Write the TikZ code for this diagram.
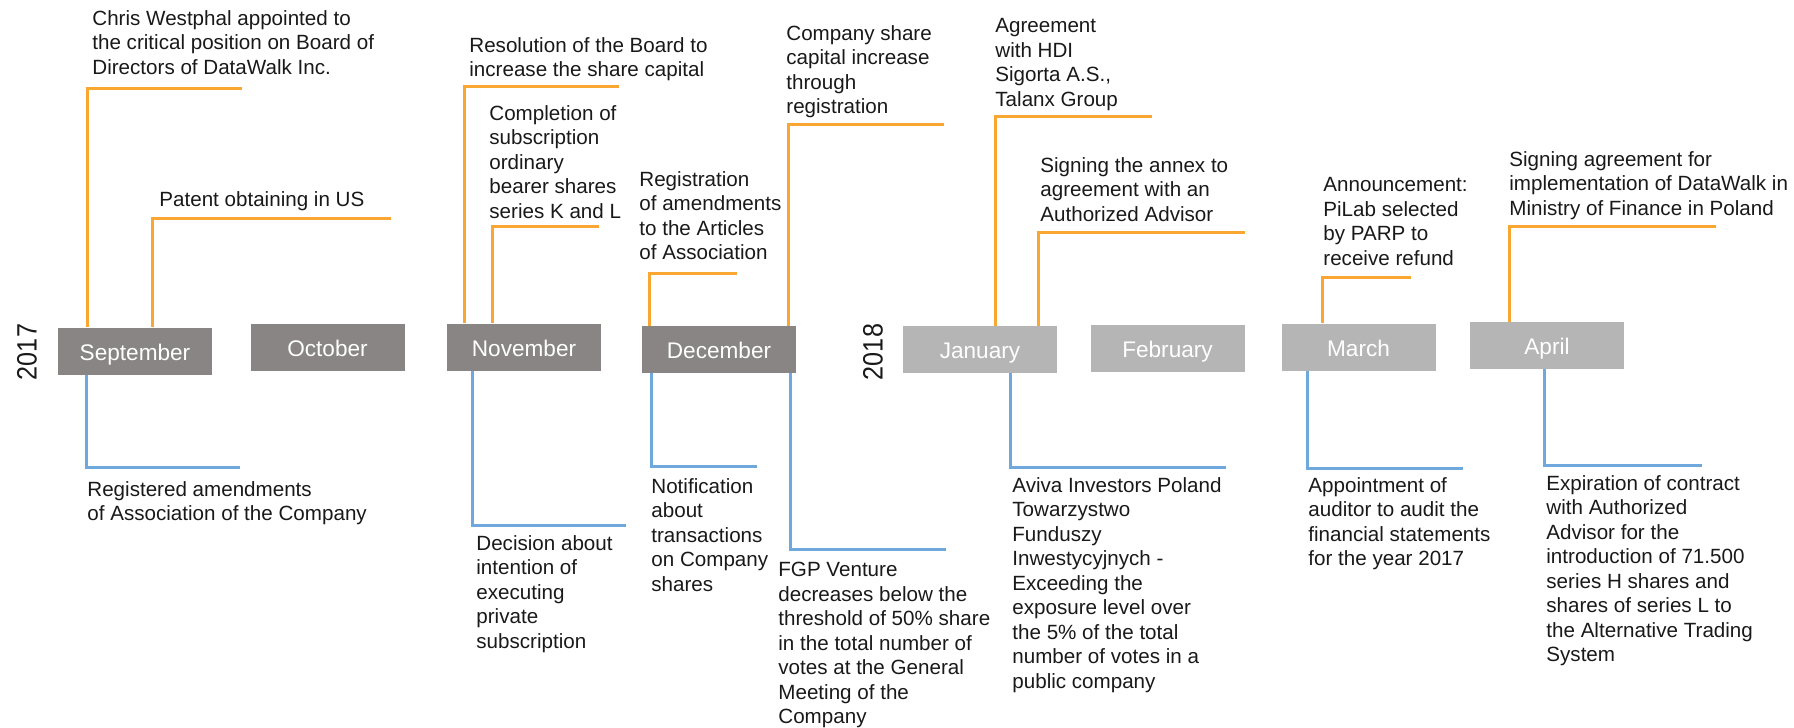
\documentclass[tikz,border=0pt]{standalone}
\usepackage{fontspec}
\setmainfont{Liberation Sans}
\usepackage{graphicx}
\usetikzlibrary{calc, positioning}
\definecolor{evorange}{RGB}{250,166,50}
\definecolor{evblue}{RGB}{110,168,220}
\definecolor{olddark}{RGB}{137,133,133}
\definecolor{newlight}{RGB}{181,181,181}
\definecolor{evtext}{RGB}{25,25,25}
\tikzstyle{month}=[inner sep=0pt, shape=rectangle, minimum width=77pt, minimum height=23.5pt, text height=0.94em, text depth=0pt, text=white, font=\fontsize{11.3}{13}\selectfont]
\tikzstyle{ev}=[inner sep=0pt, anchor=north west, align=left, text=evtext, font=\fontsize{10.3}{12.25}\selectfont]
\tikzstyle{upline}=[evorange, line width=1.5pt]
\tikzstyle{downline}=[evblue, line width=1.5pt]
\tikzstyle{year}=[rotate=90, inner sep=0pt, text=evtext, font=\fontsize{14}{16}\selectfont]

\begin{document}
\begin{tikzpicture}[x=0.5pt, y=-0.5pt]
\useasboundingbox (0,0) rectangle (1794,728);
% the years
\node[year] (Y17) at (27,352) {\scalebox{0.9}[1]{2017}};
\node[year] (Y18) at (873,352) {\scalebox{0.9}[1]{2018}};
% the months of 2017
\node[month, fill=olddark] (Sep) at (135,351) {September};
\node[month, fill=olddark] (Oct) at (327.5,347) {October};
\node[month, fill=olddark] (Nov) at (524,347) {November};
\node[month, fill=olddark] (Dec) at (719,349.5) {December};
% the months of 2018
\node[month, fill=newlight] (Jan) at (980,349.5) {January};
\node[month, fill=newlight] (Feb) at (1167.5,348) {February};
\node[month, fill=newlight] (Mar) at (1358.5,347) {March};
\node[month, fill=newlight] (Apr) at (1547,345.5) {April};
% the ``upper'' events
\node[ev] (U1) at (92,10) {Chris Westphal appointed to\\the critical position on Board of\\Directors of DataWalk Inc.};
\node[ev] (U2) at (159,191) {Patent obtaining in US};
\node[ev] (U3) at (469,37) {Resolution of the Board to\\increase the share capital};
\node[ev] (U4) at (489,105) {Completion of\\subscription\\ordinary\\bearer shares\\series K and L};
\node[ev] (U5) at (639,171) {Registration\\of amendments\\to the Articles\\of Association};
\node[ev] (U6) at (786,25) {Company share\\capital increase\\through\\registration};
\node[ev] (U7) at (995,18) {Agreement\\with HDI\\Sigorta A.S.,\\Talanx Group};
\node[ev] (U8) at (1040,157) {Signing the annex to\\agreement with an\\Authorized Advisor};
\node[ev] (U9) at (1323,177) {Announcement:\\PiLab selected\\by PARP to\\receive refund};
\node[ev] (U10) at (1509,151) {Signing agreement for\\implementation of DataWalk in\\Ministry of Finance in Poland};
% the ``lower'' events
\node[ev] (L1) at (87,481) {Registered amendments\\of Association of the Company};
\node[ev] (L2) at (476,535) {Decision about\\intention of\\executing\\private\\subscription};
\node[ev] (L3) at (651,478) {Notification\\about\\transactions\\on Company\\shares};
\node[ev] (L4) at (778,562) {FGP Venture\\decreases below the\\threshold of 50\% share\\in the total number of\\votes at the General\\Meeting of the\\Company};
\node[ev] (L5) at (1012,477) {Aviva Investors Poland\\Towarzystwo\\Funduszy\\Inwestycyjnych -\\Exceeding the\\exposure level over\\the 5\% of the total\\number of votes in a\\public company};
\node[ev] (L6) at (1308,477) {Appointment of\\auditor to audit the\\financial statements\\for the year 2017};
\node[ev] (L7) at (1546,475) {Expiration of contract\\with Authorized\\Advisor for the\\introduction of 71.500\\series H shares and\\shares of series L to\\the Alternative Trading\\System};
% the corners and ends of the brackets
\coordinate (UC1) at (87,88);    \coordinate (UE1) at (242,88);
\coordinate (UC2) at (152,218);  \coordinate (UE2) at (391,218);
\coordinate (UC3) at (464,86);   \coordinate (UE3) at (619,86);
\coordinate (UC4) at (492,226);  \coordinate (UE4) at (599,226);
\coordinate (UC5) at (649,273);  \coordinate (UE5) at (737,273);
\coordinate (UC6) at (788,124);  \coordinate (UE6) at (944,124);
\coordinate (UC7) at (995,116);  \coordinate (UE7) at (1152,116);
\coordinate (UC8) at (1038,232); \coordinate (UE8) at (1245,232);
\coordinate (UC9) at (1322,277); \coordinate (UE9) at (1411,277);
\coordinate (UC10) at (1509,226); \coordinate (UE10) at (1716,226);
\coordinate (LC1) at (86,467);   \coordinate (LE1) at (240,467);
\coordinate (LC2) at (472,525);  \coordinate (LE2) at (626,525);
\coordinate (LC3) at (651,466);  \coordinate (LE3) at (757,466);
\coordinate (LC4) at (790,549);  \coordinate (LE4) at (946,549);
\coordinate (LC5) at (1010,467); \coordinate (LE5) at (1226,467);
\coordinate (LC6) at (1307,468); \coordinate (LE6) at (1463,468);
\coordinate (LC7) at (1544,465); \coordinate (LE7) at (1702,465);
% the brackets
\draw[upline] (Sep.north -| UC1) -- (UC1) -- (UE1);
\draw[upline] (Sep.north -| UC2) -- (UC2) -- (UE2);
\draw[upline] (Nov.north -| UC3) -- (UC3) -- (UE3);
\draw[upline] (Nov.north -| UC4) -- (UC4) -- (UE4);
\draw[upline] (Dec.north -| UC5) -- (UC5) -- (UE5);
\draw[upline] (Dec.north -| UC6) -- (UC6) -- (UE6);
\draw[upline] (Jan.north -| UC7) -- (UC7) -- (UE7);
\draw[upline] (Jan.north -| UC8) -- (UC8) -- (UE8);
\draw[upline] (Mar.north -| UC9) -- (UC9) -- (UE9);
\draw[upline] (Apr.north -| UC10) -- (UC10) -- (UE10);
\draw[downline] (Sep.south -| LC1) -- (LC1) -- (LE1);
\draw[downline] (Nov.south -| LC2) -- (LC2) -- (LE2);
\draw[downline] (Dec.south -| LC3) -- (LC3) -- (LE3);
\draw[downline] (Dec.south -| LC4) -- (LC4) -- (LE4);
\draw[downline] (Jan.south -| LC5) -- (LC5) -- (LE5);
\draw[downline] (Mar.south -| LC6) -- (LC6) -- (LE6);
\draw[downline] (Apr.south -| LC7) -- (LC7) -- (LE7);
\end{tikzpicture}
\end{document}
